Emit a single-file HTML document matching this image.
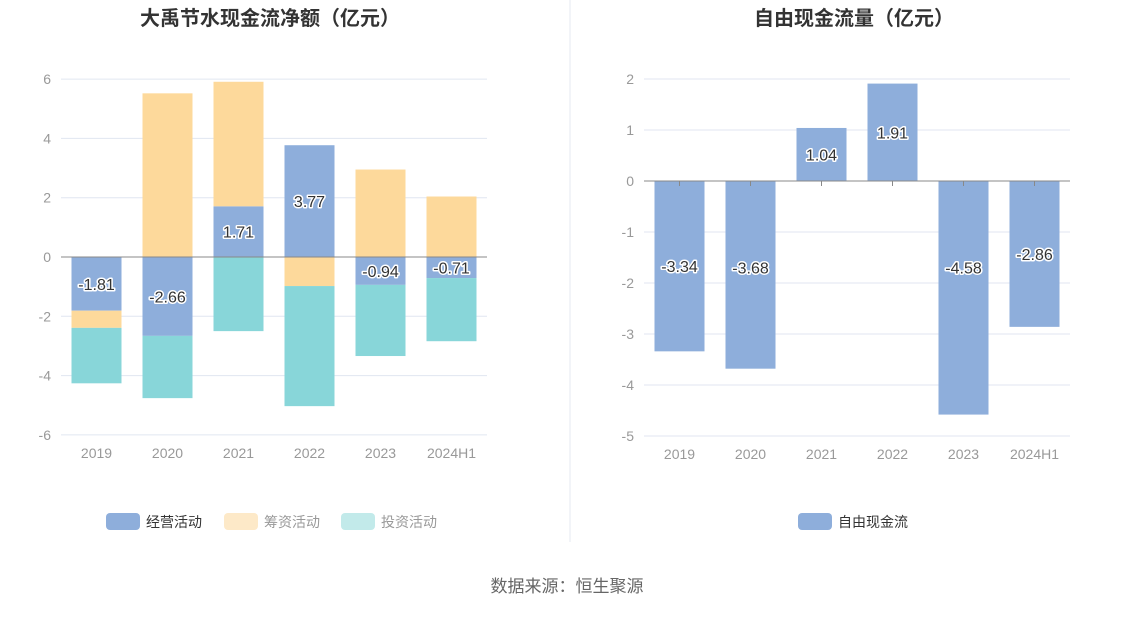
<!DOCTYPE html>
<html><head><meta charset="utf-8"><style>
body{margin:0;background:#fff;font-family:"Liberation Sans","Noto Sans CJK SC",sans-serif}
svg text{font-family:"Liberation Sans","Noto Sans CJK SC",sans-serif}
</style></head><body>
<svg id="svg" width="1134" height="612" xmlns="http://www.w3.org/2000/svg">
<text x="270" y="25" text-anchor="middle" font-size="20" font-weight="bold" fill="#333">大禹节水现金流净额（亿元）</text>
<text x="854" y="25" text-anchor="middle" font-size="20" font-weight="bold" fill="#333">自由现金流量（亿元）</text>
<line x1="570" y1="0" x2="570" y2="542" stroke="#e6e9f0"/>
<g id="left"></g><g id="right"></g>
<g>
<rect x="106" y="513" width="34" height="17" rx="4" fill="#8eaedb"/>
<text x="146" y="527" font-size="14" fill="#333">经营活动</text>
<rect x="224" y="513" width="34" height="17" rx="4" fill="#fde9c8"/>
<text x="264" y="527" font-size="14" fill="#999">筹资活动</text>
<rect x="341" y="513" width="34" height="17" rx="4" fill="#c2eaea"/>
<text x="381" y="527" font-size="14" fill="#999">投资活动</text>
</g>
<g>
<rect x="798" y="513" width="34" height="17" rx="4" fill="#8eaedb"/>
<text x="838" y="527" font-size="14" fill="#333">自由现金流</text>
</g>
<text x="567" y="592" text-anchor="middle" font-size="17" fill="#666">数据来源：恒生聚源</text>
</svg>
<script>
const categories=["2019","2020","2021","2022","2023","2024H1"];
const operating=[-1.81,-2.66,1.71,3.77,-0.94,-0.71];
const financing=[-0.58,5.52,4.2,-0.98,2.95,2.04];
const investing=[-1.87,-2.1,-2.5,-4.05,-2.4,-2.13];
const leftTicks=[-6,-4,-2,0,2,4,6];
const fcf=[-3.34,-3.68,1.04,1.91,-4.58,-2.86];
const rightTicks=[-5,-4,-3,-2,-1,0,1,2];
const NS="http://www.w3.org/2000/svg";
function mk(p,t,a){const e=document.createElementNS(NS,t);for(const k in a)e.setAttribute(k,a[k]);p.appendChild(e);return e;}
function chart(g,x0,x1,yFor,ticks,axisY){
  ticks.forEach(t=>{const y=yFor(t);
    const l=mk(g,'line',{x1:x0,x2:x1,y1:y,y2:y,stroke:t===0?'#888':'#e0e6f1'});
    
    
    const tx=mk(g,'text',{x:x0-10,y:y+5,'text-anchor':'end','font-size':14,fill:'#999'});tx.textContent=t;
    
    
  });
  const bw=(x1-x0)/categories.length;
  categories.forEach((c,i)=>{
    const tx=mk(g,'text',{x:x0+bw*(i+.5),y:axisY+23,'text-anchor':'middle','font-size':14,fill:'#999'});tx.textContent=c;
    
    
  });
  return bw;
}
function label(g,x,y,v){const t=mk(g,'text',{x:x,y:y+6,'text-anchor':'middle','font-size':16,fill:'#333',stroke:'#fff','stroke-width':3,'paint-order':'stroke','stroke-linejoin':'round'});t.textContent=v;
  
  }
// left
const L=document.getElementById('left');
const ly=v=>257-v*29.65;
const lbw=chart(L,61,487,ly,leftTicks,435);
const series=[[operating,'#8eaedb','bar-operating'],[financing,'#fdd99b','bar-financing'],[investing,'#88d6d9','bar-investing']];
categories.forEach((c,i)=>{
  let pos=0,neg=0;const x=61+lbw*i+(lbw-50)/2;
  series.forEach(([arr,col,nm])=>{const v=arr[i];let a,b;
    if(v>=0){a=pos;b=pos+v;pos=b;}else{a=neg;b=neg+v;neg=b;}
    const r=mk(L,'rect',{x:x,y:Math.min(ly(a),ly(b)),width:50,height:Math.abs(ly(a)-ly(b)),fill:col});
    
    
  });
});
mk(L,'line',{x1:61,x2:487,y1:ly(0),y2:ly(0),stroke:'#888'});
categories.forEach((c,i)=>{const x=61+lbw*(i+.5);label(L,x,ly(operating[i]/2),operating[i].toFixed(2));});
// right
const R=document.getElementById('right');
const ry=v=>181-v*51;
const rbw=chart(R,644,1070,ry,rightTicks,436);
categories.forEach((c,i)=>{const x=644+rbw*i+(rbw-50)/2;const v=fcf[i];
  const r=mk(R,'rect',{x:x,y:Math.min(ry(0),ry(v)),width:50,height:Math.abs(ry(v)-ry(0)),fill:'#8eaedb'});
  
  
});
mk(R,'line',{x1:644,x2:1070,y1:ry(0),y2:ry(0),stroke:'#888'});
categories.forEach((c,i)=>{const x=644+rbw*(i+.5);const v=fcf[i];
  const tk=mk(R,'line',{x1:x,x2:x,y1:ry(0),y2:ry(0)+5,stroke:'#888'});
  
  
  label(R,x,v<0?ry(Math.max(v/2,-1.7)):ry(v/2),v.toFixed(2));});
</script>
</body></html>
